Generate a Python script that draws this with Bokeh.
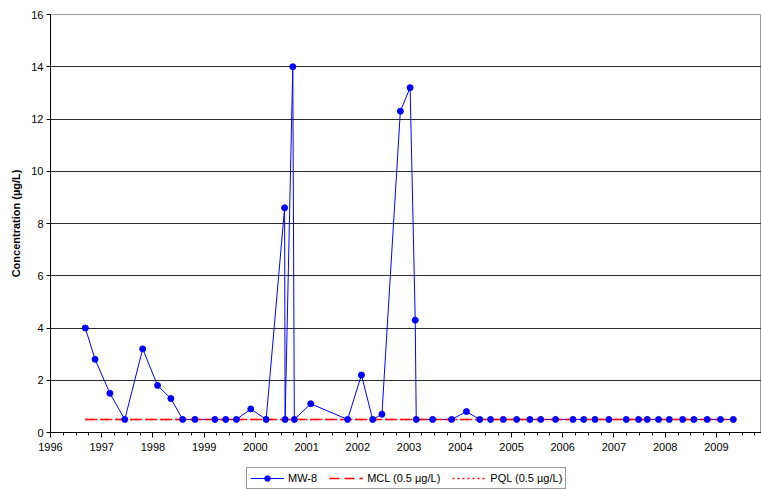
from bokeh.plotting import figure
from bokeh.layouts import column
from bokeh.models import FixedTicker, Range1d, Legend, LegendItem, ColumnDataSource
from bokeh.embed import file_html
from bokeh.resources import INLINE

# MW-8 sampling record (decimal year of sample, concentration in ug/L)
sample_year = [
    1996.68, 1996.87, 1997.16, 1997.45, 1997.80, 1998.09, 1998.35, 1998.58,
    1998.82, 1999.21, 1999.42, 1999.63, 1999.91, 2000.21, 2000.57, 2000.58,
    2000.73, 2000.76, 2001.08, 2001.80, 2002.07, 2002.29, 2002.47, 2002.83,
    2003.02, 2003.12, 2003.14, 2003.46, 2003.83, 2004.12, 2004.38, 2004.59,
    2004.84, 2005.10, 2005.36, 2005.57, 2005.86, 2006.20, 2006.41, 2006.63,
    2006.90, 2007.24, 2007.48, 2007.65, 2007.87, 2008.08, 2008.34, 2008.56,
    2008.82, 2009.08, 2009.33,
]
mw8 = [
    4.0, 2.8, 1.5, 0.5, 3.2, 1.8, 1.3, 0.5,
    0.5, 0.5, 0.5, 0.5, 0.9, 0.5, 8.6, 0.5,
    14.0, 0.5, 1.1, 0.5, 2.2, 0.5, 0.7, 12.3,
    13.2, 4.3, 0.5, 0.5, 0.5, 0.8, 0.5, 0.5,
    0.5, 0.5, 0.5, 0.5, 0.5, 0.5, 0.5, 0.5,
    0.5, 0.5, 0.5, 0.5, 0.5, 0.5, 0.5, 0.5,
    0.5, 0.5, 0.5,
]
mcl = 0.5
pql = 0.5

year_ticks = list(range(1996, 2010))
y_ticks = [0, 2, 4, 6, 8, 10, 12, 14, 16]

FONT = "Liberation Sans"
BLUE = "#0000ff"
RED = "#ff0000"
MCL_DASH = "10 5"
PQL_DASH = "2 3"

src = ColumnDataSource(dict(x=sample_year, y=mw8))
limit_x = [sample_year[0], sample_year[-1]]

p = figure(
    width=761, height=467,
    output_backend="svg", toolbar_location=None,
    x_range=Range1d(1996, 2009.88), y_range=Range1d(0, 16),
    min_border_left=50, min_border_right=0,
    min_border_top=14, min_border_bottom=35,
)
p.background_fill_color = "white"
p.border_fill_color = "white"
p.outline_line_color = "#9a9a9a"
p.outline_line_width = 1

# axes
quarters = [1996 + q / 4 for q in range(0, 4 * 14 + 4)]
p.xaxis.ticker = FixedTicker(ticks=year_ticks, minor_ticks=quarters)
p.yaxis.ticker = FixedTicker(ticks=y_ticks)
for ax in (p.xaxis[0], p.yaxis[0]):
    ax.axis_line_color = "black"
    ax.axis_line_width = 1
    ax.major_tick_line_color = "black"
    ax.major_tick_in = 0
    ax.major_label_text_font = FONT
    ax.major_label_text_font_size = "11px"
    ax.major_label_text_color = "black"
p.xaxis.major_tick_out = 5
p.xaxis.minor_tick_out = 3
p.xaxis.minor_tick_in = 0
p.xaxis.minor_tick_line_color = "black"
p.xaxis.major_label_standoff = 5
p.yaxis.major_tick_out = 4
p.yaxis.minor_tick_line_color = None
p.yaxis.major_label_standoff = 3
p.yaxis.axis_label = "Concentration (µg/L)"
p.yaxis.axis_label_text_font = FONT
p.yaxis.axis_label_text_font_size = "11px"
p.yaxis.axis_label_text_font_style = "bold"
p.yaxis.axis_label_text_color = "black"
p.yaxis.axis_label_standoff = 6

p.xgrid.grid_line_color = None
p.ygrid.ticker = FixedTicker(ticks=[2, 4, 6, 8, 10, 12, 14])
p.ygrid.grid_line_color = "#2a2a2a"
p.ygrid.grid_line_width = 1

# series
p.line("x", "y", source=src, line_color=BLUE, line_width=1)
p.line(limit_x, [pql, pql], line_color=RED, line_width=1.5, line_dash=PQL_DASH)
p.line(limit_x, [mcl, mcl], line_color=RED, line_width=1.5, line_dash=MCL_DASH)
p.scatter("x", "y", source=src, size=6, marker="circle",
          fill_color=BLUE, line_color=BLUE)

# legend strip underneath the chart; its swatch renderers reuse the series
# data but fall outside this strip's own (0..1) ranges, so only the key shows
lg = figure(
    width=761, height=22,
    output_backend="svg", toolbar_location=None,
    x_axis_type=None, y_axis_type=None,
    x_range=Range1d(0, 1), y_range=Range1d(0, 1),
    min_border=0, outline_line_color=None,
)
lg.xgrid.grid_line_color = None
lg.ygrid.grid_line_color = None
k_line = lg.line("x", "y", source=src, line_color=BLUE, line_width=1)
k_pts = lg.scatter("x", "y", source=src, size=6, marker="circle",
                   fill_color=BLUE, line_color=BLUE)
k_mcl = lg.line(limit_x, [mcl, mcl], line_color=RED, line_width=1.5,
                line_dash=MCL_DASH)
k_pql = lg.line(limit_x, [pql, pql], line_color=RED, line_width=1.5,
                line_dash=PQL_DASH)

legend = Legend(
    items=[
        LegendItem(label="MW-8", renderers=[k_line, k_pts]),
        LegendItem(label="MCL (0.5 µg/L)", renderers=[k_mcl]),
        LegendItem(label="PQL (0.5 µg/L)", renderers=[k_pql]),
    ],
    orientation="horizontal",
    location=(196, 0),
    label_text_font=FONT,
    label_text_font_size="11px",
    label_text_color="black",
    glyph_width=34, glyph_height=14, label_height=14,
    label_standoff=4, spacing=12, padding=3, margin=0,
    border_line_color="#333333", border_line_width=1,
    background_fill_color="white", background_fill_alpha=1,
)
lg.add_layout(legend, "center")

open("out.html", "w").write(file_html(column(p, lg, spacing=0), INLINE))
